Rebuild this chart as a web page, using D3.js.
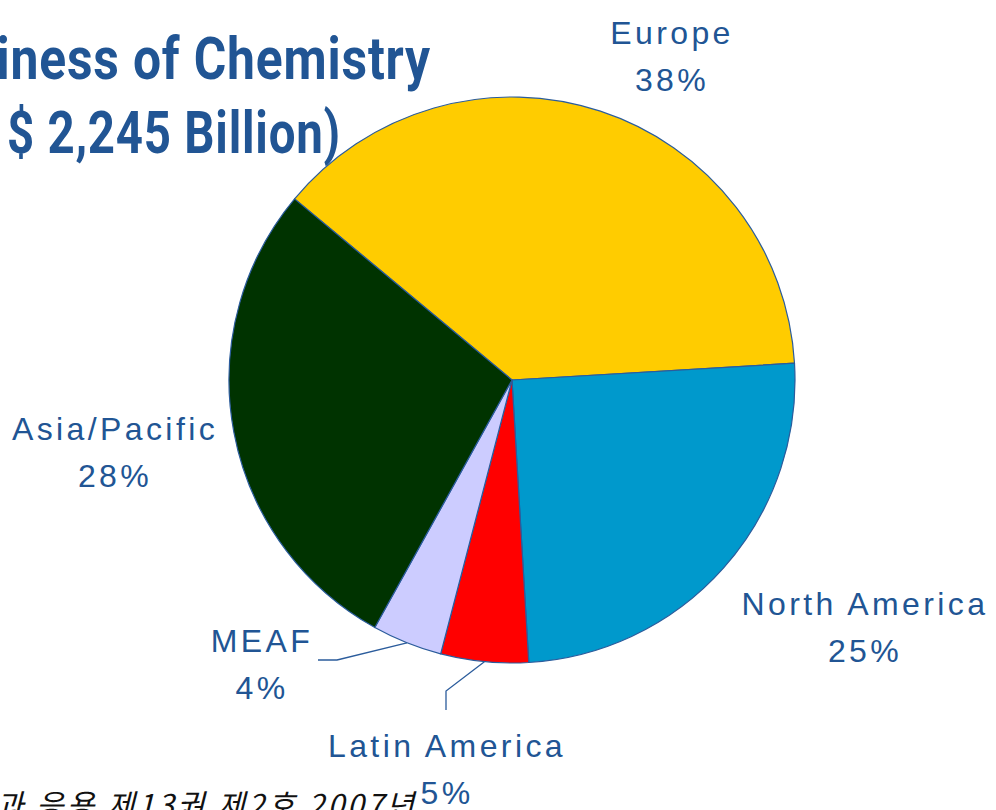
<!DOCTYPE html>
<html>
<head>
<meta charset="utf-8">
<script src="https://cdn.jsdelivr.net/npm/d3@7"></script>
<style>
  html, body { margin: 0; padding: 0; background: #ffffff; overflow: hidden; }
  svg { display: block; }
</style>
</head>
<body>
<script>
// Regional shares of the global chemical business
const regions = ["Europe", "North America", "Latin America", "MEAF", "Asia/Pacific"];
const shares = [38, 25, 5, 4, 28];
const sliceColors = ["#FFCC00", "#0099CC", "#FF0000", "#CCCCFF", "#003300"];
const titleLines = ["(Global Business of Chemistry", "(US $ 2,245 Billion)"];
const sourceNote = "화학공학의 이론과 응용 제13권 제2호 2007년";

const W = 996, H = 810;
const cx = 512, cy = 380, R = 283;
const labelColor = "#215594";

const svg = d3.select("body").append("svg")
  .attr("width", W).attr("height", H);

// title in a condensed bold face (runs off the left edge)
const titleG = svg.append("g")
  .attr("font-family", "Roboto, 'Liberation Sans', sans-serif")
  .attr("font-weight", "bold")
  .attr("font-size", 60)
  .attr("letter-spacing", 1)
  .attr("fill", labelColor)
  .attr("text-anchor", "end");
titleG.append("text")
  .attr("transform", "translate(431,79) scale(0.83,1)")
  .text(titleLines[0]);
titleG.append("text")
  .attr("transform", "translate(341,153) scale(0.79,1)")
  .text(titleLines[1]);

// pie
const data = regions.map((r, i) => ({ region: r, share: shares[i], color: sliceColors[i] }));
const startDeg = -50.2;
const pie = d3.pie().value(d => d.share).sort(null)
  .startAngle(startDeg * Math.PI / 180)
  .endAngle((startDeg + 360) * Math.PI / 180);
const arc = d3.arc().innerRadius(0).outerRadius(R);
const arcs = pie(data);

const pieG = svg.append("g").attr("transform", `translate(${cx},${cy})`);
pieG.selectAll("path.slice").data(arcs).enter().append("path")
  .attr("class", "slice")
  .attr("d", arc)
  .attr("fill", d => d.data.color)
  .attr("stroke", "#2B5C9C")
  .attr("stroke-width", 1.2)
  .attr("stroke-linejoin", "round");

// source note (italic, cut by the page edges)
svg.append("text")
  .attr("x", 417).attr("y", 816)
  .attr("text-anchor", "end")
  .attr("font-family", "'Noto Sans CJK KR', sans-serif")
  .attr("font-style", "italic")
  .attr("font-size", 30)
  .attr("letter-spacing", 3)
  .attr("fill", "#111111")
  .text(sourceNote);

// label layout: centre x and first baseline per region
const labelPos = {
  "Europe": [672, 44],
  "North America": [865, 615],
  "Latin America": [447, 757],
  "MEAF": [262, 652],
  "Asia/Pacific": [115, 440]
};
const lineGap = 47;

const labG = svg.append("g")
  .attr("font-family", "'Liberation Sans', Arial, sans-serif")
  .attr("font-size", 32)
  .attr("letter-spacing", 3.4)
  .attr("fill", labelColor)
  .attr("text-anchor", "middle");

arcs.forEach(a => {
  const [lx, ly] = labelPos[a.data.region];
  const t = labG.append("text").attr("x", lx).attr("y", ly);
  t.append("tspan").attr("x", lx).text(a.data.region);
  t.append("tspan").attr("x", lx).attr("dy", lineGap).text(a.data.share + "%");
});

// leader lines for the two small slices
const edgePoint = a => {
  const m = (a.startAngle + a.endAngle) / 2;
  return [cx + R * Math.sin(m), cy - R * Math.cos(m)];
};
const leaders = {
  "MEAF": p => [p, [337, 660], [318, 660]],
  "Latin America": p => [p, [446, 691], [446, 710]]
};
arcs.filter(a => leaders[a.data.region]).forEach(a => {
  const pts = leaders[a.data.region](edgePoint(a));
  svg.append("path")
    .attr("d", d3.line()(pts))
    .attr("fill", "none")
    .attr("stroke", "#2B5C9C")
    .attr("stroke-width", 1.3);
});
</script>
</body>
</html>
